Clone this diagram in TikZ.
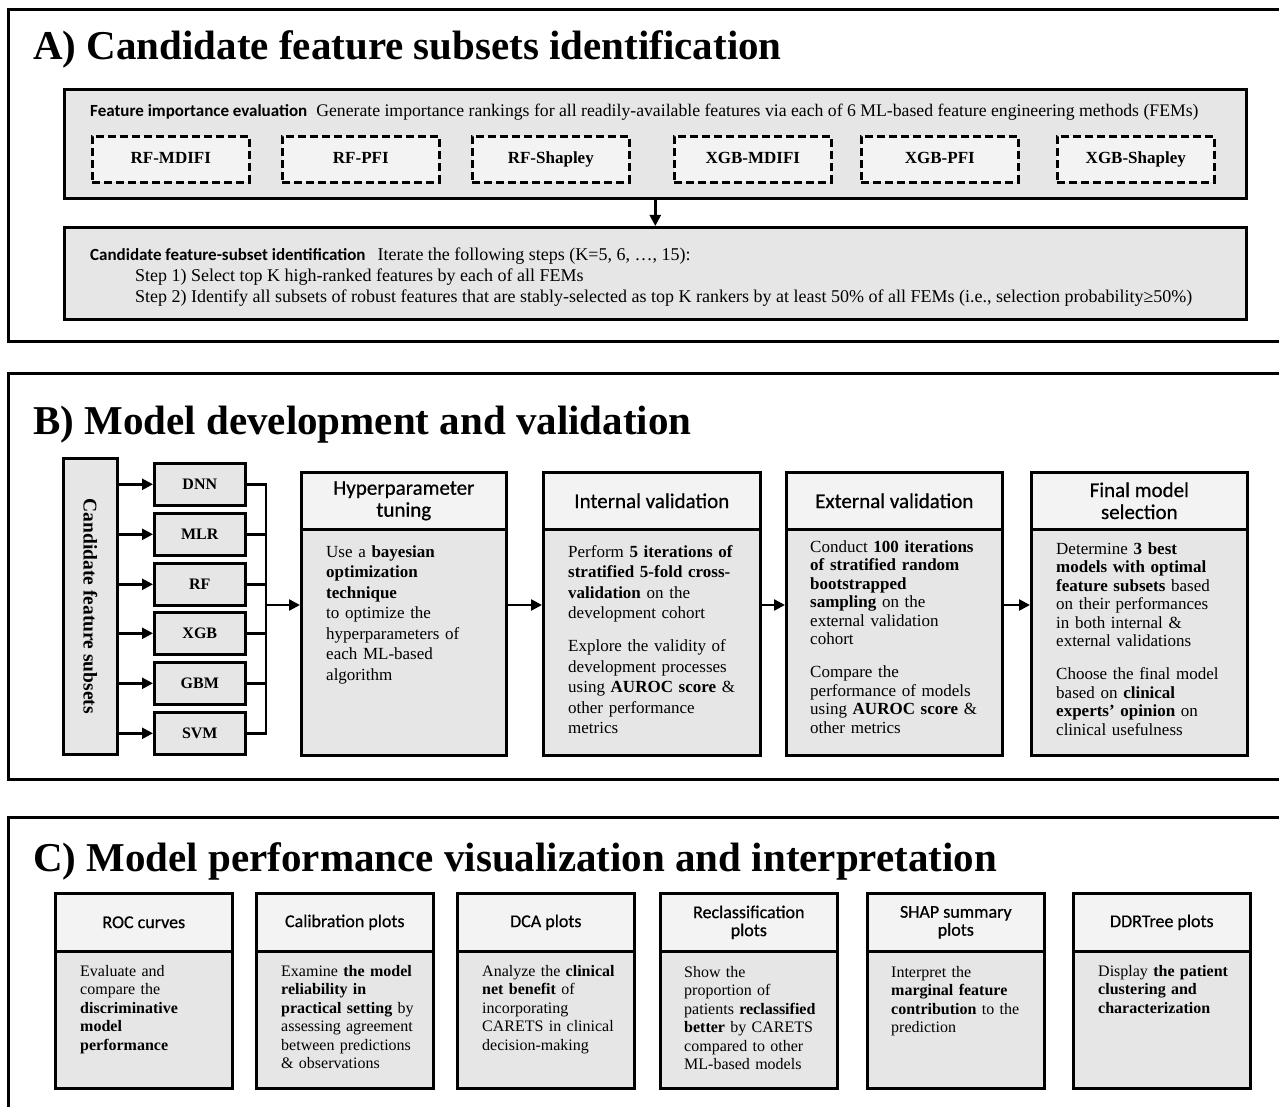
\documentclass[tikz,border=0pt]{standalone}
\usepackage{fontspec}
\setmainfont{Liberation Serif}
\newfontfamily\hdfont{Carlito}
\newfontfamily\hdmed[FakeBold=0.6]{Carlito}
\usetikzlibrary{arrows.meta}

\definecolor{boxgray}{HTML}{E6E6E6}
\definecolor{headgray}{HTML}{F3F3F3}

\begin{document}
\begin{tikzpicture}[x=1pt,y=-1pt,
  frame/.style={line width=3pt, line cap=rect},
  gbox/.style={draw, line width=2.6pt, fill=boxgray, inner sep=0pt, anchor=north west},
  hbox/.style={draw, line width=2.6pt, fill=headgray, inner sep=0pt, anchor=north west, align=center},
  dbox/.style={draw, line width=2.6pt, dash pattern=on 8pt off 4pt, fill=headgray, inner sep=0pt,
    anchor=north west, minimum width=157pt, minimum height=46pt, text height=12pt, text depth=4pt,
    font=\fontsize{17}{20}\selectfont\bfseries},
  mbox/.style={gbox, minimum width=91pt, minimum height=42pt, text height=11pt, text depth=0pt,
    font=\fontsize{16}{18}\selectfont\bfseries},
  sectitle/.style={anchor=base west, inner sep=0pt, font=\fontsize{41}{41}\selectfont\bfseries},
  line/.style={anchor=base west, inner sep=0pt, font=\fontsize{18}{20}\selectfont},
  bhead/.style={hbox, minimum height=57pt, font=\hdmed\fontsize{21}{22}\selectfont},
  chead/.style={hbox, minimum width=177pt, minimum height=58pt, font=\hdmed\fontsize{18}{18}\selectfont},
  cbody/.style={gbox, minimum width=177pt, minimum height=137pt},
  btext/.style={anchor=base west, align=left, text width=215pt, inner sep=0pt},
  ctext/.style={anchor=base west, align=left, text width=170pt, inner sep=0pt,
    font=\fontsize{16}{18.5}\selectfont},
  conn/.style={line width=2.4pt},
  arr/.style={line width=2.4pt, -{Triangle[length=11pt,width=11pt]}}
]
\useasboundingbox (0,0) rectangle (1279,1107);
\clip (0,0) rectangle (1279,1107);
\fill[white] (0,0) rectangle (1279,1107);

% ---------------- Panel A ----------------
\draw[frame] (1300,10) -- (8,10) -- (8,341) -- (1300,341);
\node[sectitle] (ttlA) at (33,60) {A) Candidate feature subsets identification};

\node[gbox, minimum width=1182pt, minimum height=109pt] (fie) at (63,88) {};
\node[line] (fieText) at (90,117)
  {{\hdfont\fontsize{17}{20}\selectfont\bfseries Feature importance evaluation}\hspace{9pt}{\fontsize{17.7}{20}\selectfont Generate importance rankings for all readily-available features via each of 6 ML-based feature engineering methods (FEMs)}};

\node[dbox] (m1) at (91,135) {RF-MDIFI};
\node[dbox] (m2) at (281,135) {RF-PFI};
\node[dbox] (m3) at (471,135) {RF-Shapley};
\node[dbox] (m4) at (673,135) {XGB-MDIFI};
\node[dbox] (m5) at (860,135) {XGB-PFI};
\node[dbox] (m6) at (1056,135) {XGB-Shapley};

\node[gbox, minimum width=1182pt, minimum height=92pt] (cfi) at (63,226) {};
\node[line] (cfiText) at (90,261)
  {{\hdfont\fontsize{17}{20}\selectfont\bfseries Candidate feature-subset identification}\hspace{12pt}Iterate the following steps (K=5, 6, …, 15):};
\node[line] (step1) at (135,282) {Step 1) Select top K high-ranked features by each of all FEMs};
\node[line] (step2) at (135,302) {Step 2) Identify all subsets of robust features that are stably-selected as top K rankers by at least 50\% of all FEMs (i.e., selection probability≥50\%)};

\draw[arr] (fie.south) -- (cfi.north);

% ---------------- Panel B ----------------
\draw[frame] (1300,373) -- (8,373) -- (8,779) -- (1300,779);
\node[sectitle] (ttlB) at (33,434) {B) Model development and validation};

\node[gbox, minimum width=54pt, minimum height=296pt] (cfs) at (62,457) {};
\node[rotate=-90, inner sep=0pt, font=\fontsize{19.5}{19.5}\selectfont\bfseries] (cfsText) at (cfs.center) {Candidate feature subsets};

\node[mbox] (dnn) at (153,462) {DNN};
\node[mbox] (mlr) at (153,512) {MLR};
\node[mbox] (rf)  at (153,562) {RF};
\node[mbox] (xgb) at (153,611) {XGB};
\node[mbox] (gbm) at (153,661) {GBM};
\node[mbox] (svm) at (153,711) {SVM};

\foreach \m in {dnn,mlr,rf,xgb,gbm,svm}
  \draw[arr] (cfs.east |- \m.west) -- (\m.west);

\coordinate (bus) at (266,0);
\coordinate (flow) at (0,605);
\draw[conn] (dnn.east) -- (dnn.east -| bus) -- (svm.east -| bus) -- (svm.east);
\foreach \m in {mlr,rf,xgb,gbm}
  \draw[conn] (\m.east) -- (\m.east -| bus);

% stage boxes: header + body
\node[bhead, minimum width=205pt] (hpH) at (300,471) {Hyperparameter\\tuning};
\node[gbox, minimum width=205pt, minimum height=226pt] (hpB) at (300,528) {};
\node[bhead, minimum width=217pt] (ivH) at (542,471) {Internal validation};
\node[gbox, minimum width=217pt, minimum height=226pt] (ivB) at (542,528) {};
\node[bhead, minimum width=216pt] (evH) at (785,471) {External validation};
\node[gbox, minimum width=216pt, minimum height=226pt] (evB) at (785,528) {};
\node[bhead, minimum width=216pt] (fmH) at (1030,471) {Final model\\selection};
\node[gbox, minimum width=216pt, minimum height=226pt] (fmB) at (1030,528) {};

\node[btext, font=\fontsize{17}{20.5}\selectfont] (hpText) at (326,557)
  {Use a \textbf{bayesian}\\ \textbf{optimization}\\ \textbf{technique}\\ to optimize the\\ hyperparameters of\\ each ML-based\\ algorithm};
\node[btext, font=\fontsize{17}{20.5}\selectfont] (ivText) at (568,557)
  {Perform \textbf{5 iterations of}\\ \textbf{stratified 5-fold cross-}\\ \textbf{validation} on the\\ development cohort\\[12.5pt]
   Explore the validity of\\ development processes\\ using \textbf{AUROC score} \&\\ other performance\\ metrics};
\node[btext, font=\fontsize{17}{18.5}\selectfont] (evText) at (810,552)
  {Conduct \textbf{100 iterations}\\ \textbf{of stratified random}\\ \textbf{bootstrapped}\\ \textbf{sampling} on the\\ external validation\\ cohort\\[14.5pt]
   Compare the\\ performance of models\\ using \textbf{AUROC score} \&\\ other metrics};
\node[btext, font=\fontsize{17}{18.5}\selectfont] (fmText) at (1056,554)
  {Determine \textbf{3 best}\\ \textbf{models with optimal}\\ \textbf{feature subsets} based\\ on their performances\\ in both internal \&\\ external validations\\[14.5pt]
   Choose the final model\\ based on \textbf{clinical}\\ \textbf{experts’ opinion} on\\ clinical usefulness};

\draw[arr] (bus |- flow) -- (hpB.west |- flow);
\draw[arr] (hpB.east |- flow) -- (ivB.west |- flow);
\draw[arr] (ivB.east |- flow) -- (evB.west |- flow);
\draw[arr] (evB.east |- flow) -- (fmB.west |- flow);

% ---------------- Panel C ----------------
\draw[frame] (1300,817) -- (8,817) -- (8,1120);
\node[sectitle] (ttlC) at (33,871) {C) Model performance visualization and interpretation};

\node[chead] (rocH) at (54,892) {ROC curves};
\node[cbody] (rocB) at (54,950) {};
\node[chead] (calH) at (255,892) {Calibration plots};
\node[cbody] (calB) at (255,950) {};
\node[chead] (dcaH) at (456,892) {DCA plots};
\node[cbody] (dcaB) at (456,950) {};
\node[chead] (recH) at (659,892) {Reclassification\\plots};
\node[cbody] (recB) at (659,950) {};
\node[chead] (shpH) at (866,892) {SHAP summary\\plots};
\node[cbody] (shpB) at (866,950) {};
\node[chead] (ddrH) at (1072,892) {DDRTree plots};
\node[cbody] (ddrB) at (1072,950) {};

\node[ctext] (rocText) at (80,976)
  {Evaluate and\\ compare the\\ \textbf{discriminative}\\ \textbf{model}\\ \textbf{performance}};
\node[ctext] (calText) at (281,976)
  {Examine \textbf{the model}\\ \textbf{reliability in}\\ \textbf{practical setting} by\\ assessing agreement\\ between predictions\\ \& observations};
\node[ctext] (dcaText) at (482,976)
  {Analyze the \textbf{clinical}\\ \textbf{net benefit} of\\ incorporating\\ CARETS in clinical\\ decision-making};
\node[ctext] (recText) at (684,977)
  {Show the\\ proportion of\\ patients \textbf{reclassified}\\ \textbf{better} by CARETS\\ compared to other\\ ML-based models};
\node[ctext] (shpText) at (891,977)
  {Interpret the\\ \textbf{marginal feature}\\ \textbf{contribution} to the\\ prediction};
\node[ctext] (ddrText) at (1098,976)
  {Display \textbf{the patient}\\ \textbf{clustering and}\\ \textbf{characterization}};
\end{tikzpicture}
\end{document}
